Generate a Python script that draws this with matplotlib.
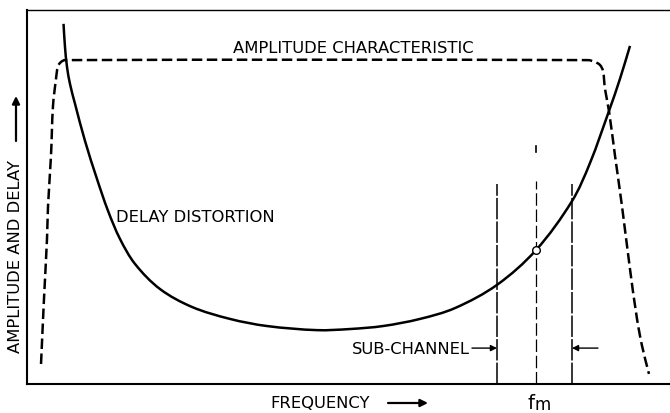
import matplotlib
matplotlib.use("Agg")
import matplotlib.pyplot as plt
import numpy as np
from matplotlib.path import Path
from matplotlib.patches import PathPatch, FancyArrowPatch

plt.rcParams['font.family'] = ['DejaVu Sans']

# Delay distortion across the band (arbitrary units)
delay_freq = [5.68, 5.91, 6.22, 6.69, 7.47, 9.02, 10.89, 12.60, 14.46, 16.80,
              20.68, 25.66, 31.57, 37.33, 45.10, 50.23, 55.37, 61.12, 66.56,
              73.09, 79.16, 84.76, 87.56, 90.51, 92.22, 93.78]
delay_vals = [96.3, 90.1, 84.8, 80.2, 74.9, 65.0, 54.8, 46.3, 38.8, 32.1,
              25.4, 20.6, 17.4, 15.5, 14.4, 14.7, 15.5, 17.4, 20.3,
              26.5, 35.8, 48.9, 59.1, 73.0, 81.6, 90.4]

# Amplitude characteristic of the channel filter
amp_freq = [2.18, 2.64, 3.11, 3.27, 3.73, 4.04, 4.51, 4.82, 5.29, 5.91,
            87.25, 88.34, 89.11, 89.58, 89.89, 90.51, 91.45, 92.53, 93.78,
            94.87, 95.65, 96.73]
amp_vals = [5.35, 22.7, 38.8, 47.6, 61.0, 74.3, 81.6, 85.0, 86.1, 86.6,
            86.6, 86.1, 85.3, 83.7, 78.9, 73.0, 61.0, 47.6, 30.7,
            17.4, 10.2, 2.7]

# Sub-channel edges and its mid frequency f_m
sub_edges = [73.09, 84.76]
sub_edge_top = 53.5
fm = 79.16
fm_top = 54.3
fm_mark = [62.0, 63.6]
fm_delay = 35.8
arrow_level = 9.6

fig = plt.figure(figsize=(6.7, 4.14), dpi=100)
ax = fig.add_axes([27 / 670, 1 - 385 / 414, 1 - 27 / 670, 374 / 414])
ax.set_xlim(0, 100)
ax.set_ylim(0, 100)
ax.set_xticks([])
ax.set_yticks([])
ax.spines['right'].set_visible(False)
ax.spines['left'].set_linewidth(1.5)
ax.spines['bottom'].set_linewidth(1.5)
ax.spines['top'].set_linewidth(1.0)


def smooth_curve(xs, ys, **kw):
    """Draw a smooth Bezier curve passing through every (x, y) point."""
    pts = ax.transData.transform(np.column_stack([xs, ys]))
    n = len(pts)
    tan = np.zeros_like(pts)
    for i in range(n):
        if i == 0:
            d = pts[1] - pts[0]
        elif i == n - 1:
            d = pts[-1] - pts[-2]
        else:
            d = pts[i + 1] - pts[i - 1]
        tan[i] = d / np.hypot(*d)
    verts = [pts[0]]
    codes = [Path.MOVETO]
    for i in range(n - 1):
        seg = np.hypot(*(pts[i + 1] - pts[i]))
        verts += [pts[i] + tan[i] * seg / 3,
                  pts[i + 1] - tan[i + 1] * seg / 3,
                  pts[i + 1]]
        codes += [Path.CURVE4] * 3
    verts = ax.transData.inverted().transform(np.array(verts))
    patch = PathPatch(Path(verts, codes), fill=False, transform=ax.transData,
                      **kw)
    ax.add_patch(patch)
    return patch


# curves
smooth_curve(amp_freq, amp_vals, edgecolor='black', lw=1.8,
             linestyle=(0, (4.2, 1.8)), capstyle='butt', joinstyle='round')
smooth_curve(delay_freq, delay_vals, edgecolor='black', lw=1.8,
             capstyle='butt', joinstyle='round')

# sub-channel boundaries
for xe in sub_edges:
    ax.plot([xe, xe], [0, sub_edge_top], color='black', lw=1.1,
            dashes=(14, 1.4), dash_capstyle='butt')
ax.plot([fm, fm], [0, fm_top], color='black', lw=0.9,
        dashes=(10, 3.0), dash_capstyle='butt')
ax.plot([fm, fm], fm_mark, color='black', lw=1.2)
ax.plot([fm], [fm_delay], marker='o', ms=5.5, mfc='white', mec='black',
        mew=1.0, zorder=5)

# sub-channel arrows
ax.annotate('', xy=(sub_edges[0], arrow_level), xytext=(69.2, arrow_level),
            arrowprops=dict(arrowstyle='-|>', lw=1.0, color='black',
                            mutation_scale=9, shrinkA=0, shrinkB=0))
ax.annotate('', xy=(sub_edges[1], arrow_level), xytext=(88.8, arrow_level),
            arrowprops=dict(arrowstyle='-|>', lw=1.0, color='black',
                            mutation_scale=9, shrinkA=0, shrinkB=0))

# labels inside the frame
ax.text(50.7, 90.1, 'AMPLITUDE CHARACTERISTIC', ha='center', va='center',
        fontsize=11.8)
ax.text(13.84, 44.9, 'DELAY DISTORTION', ha='left', va='center',
        fontsize=11.8)
ax.text(68.9, arrow_level, 'SUB-CHANNEL', ha='right', va='center',
        fontsize=11.8)

# axis titles
fig.text(320 / 670, 1 - 404 / 414, 'FREQUENCY', ha='center', va='center',
         fontsize=11.8)
fig.add_artist(FancyArrowPatch(
    (388 / 670, 1 - 404 / 414), (428 / 670, 1 - 404 / 414),
    transform=fig.transFigure, arrowstyle='-|>', mutation_scale=11,
    lw=1.6, color='black', shrinkA=0, shrinkB=0))
fig.text(16 / 670, 1 - 257 / 414, 'AMPLITUDE AND DELAY', rotation=90,
         ha='center', va='center', fontsize=11.8)
fig.add_artist(FancyArrowPatch(
    (16 / 670, 1 - 142 / 414), (16 / 670, 1 - 97 / 414),
    transform=fig.transFigure, arrowstyle='-|>', mutation_scale=11,
    lw=1.6, color='black', shrinkA=0, shrinkB=0))
fig.text(527 / 670, 1 - 409 / 414, 'f', ha='left', va='baseline', fontsize=14)
fig.text(535 / 670, 0.0, 'm', ha='left', va='bottom', fontsize=12)

fig.savefig('out.png', dpi=100, facecolor='white')
